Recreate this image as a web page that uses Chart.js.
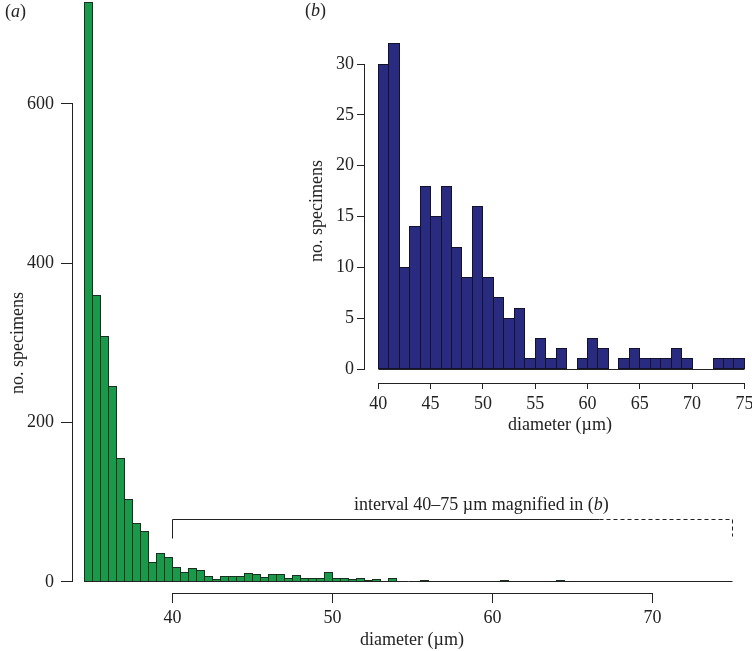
<!DOCTYPE html>
<html>
<head>
<meta charset="utf-8">
<title>Specimen diameters</title>
<script src="https://cdn.jsdelivr.net/npm/chart.js@4.4.1/dist/chart.umd.min.js"></script>
<style>
  html, body { margin: 0; background: #fff; }
  #wrap { position: relative; width: 752px; height: 651px; }
  #wrap canvas { position: absolute; top: 0; }
  #main { left: 0; }
  #inset { left: 290px; }
</style>
</head>
<body>
<div id="wrap">
  <canvas id="main" width="752" height="651"></canvas>
  <canvas id="inset" width="462" height="440"></canvas>
</div>
<script>
// (a) counts in 0.5 um bins, left edge of each bin
const mainBins = [34.5, 35, 35.5, 36, 36.5, 37, 37.5, 38, 38.5, 39, 39.5,
  40, 40.5, 41, 41.5, 42, 42.5, 43, 43.5, 44, 44.5,
  45, 45.5, 46, 46.5, 47, 47.5, 48, 48.5, 49, 49.5,
  50, 50.5, 51, 51.5, 52, 52.5, 53, 53.5, 54, 54.5,
  55, 55.5, 56, 56.5, 57, 57.5, 58, 58.5, 59, 59.5,
  60, 60.5, 61, 61.5, 62, 62.5, 63, 63.5, 64, 64.5,
  65, 65.5, 66, 66.5, 67, 67.5, 68, 68.5, 69, 69.5,
  70, 70.5, 71, 71.5, 72, 72.5, 73, 73.5, 74, 74.5];
const mainCounts = [727, 359, 308, 246, 155, 104, 73, 64, 25, 36, 31,
  18, 12, 17, 15, 7, 3, 7, 7, 7, 11,
  9, 6, 9, 9, 4, 8, 4, 5, 4, 12,
  4, 5, 3, 4, 2, 3, 1, 5, 0, 1,
  1, 2, 0, 1, 1, 1, 0, 0, 1, 0,
  1, 2, 1, 1, 0, 0, 0, 1, 2, 0,
  1, 0, 0, 1, 1, 0, 1, 1, 1, 0,
  0, 0, 0, 0, 1, 0, 0, 1, 1, 0];

// (b) counts in 1 um bins from 40 to 75
const insetBins = [40, 41, 42, 43, 44, 45, 46, 47, 48, 49, 50, 51, 52, 53, 54,
  55, 56, 57, 58, 59, 60, 61, 62, 63, 64, 65, 66, 67, 68, 69, 70, 71, 72, 73, 74];
const insetCounts = [30, 32, 10, 14, 18, 15, 18, 12, 9, 16, 9, 7, 5, 6, 1,
  3, 1, 2, 0, 1, 3, 2, 0, 1, 2, 1, 1, 1, 2, 1, 0, 0, 1, 1, 1];

const mainXTicks = [40, 50, 60, 70];
const mainYTicks = [0, 200, 400, 600];
const insetXTicks = [40, 45, 50, 55, 60, 65, 70, 75];
const insetYTicks = [0, 5, 10, 15, 20, 25, 30];

const serif = '"Liberation Serif", "Times New Roman", serif';
const ink = '#222';

// R-like axis: ticks drawn by Chart.js, axis line drawn only between first and last tick
function axis(o) {
  return {
    type: 'linear', min: o.min, max: o.max, offset: false,
    afterBuildTicks: s => { s.ticks = o.ticks.map(v => ({value: v})); },
    afterFit: s => {
      if (o.horizontal) s.height = o.size; else s.width = o.size;
      s.paddingTop = s.paddingBottom = s.paddingLeft = s.paddingRight = 0;
    },
    grid: {offset: false, drawOnChartArea: false, drawTicks: true, tickLength: o.tickLength, color: ink, lineWidth: 1},
    border: {display: false},
    ticks: {color: ink, padding: o.padding, font: {family: serif, size: 18}, maxRotation: 0, autoSkip: false}
  };
}

function setFont(ctx, italic) {
  ctx.font = (italic ? 'italic ' : '') + '18px ' + serif;
}

// draw text made of upright / italic pieces
function rich(ctx, parts, x, y, align) {
  const widths = parts.map(p => { setFont(ctx, p[1]); return ctx.measureText(p[0]).width; });
  const total = widths.reduce((a, b) => a + b, 0);
  let cx = align === 'center' ? x - total / 2 : x;
  ctx.textAlign = 'left';
  parts.forEach((p, i) => { setFont(ctx, p[1]); ctx.fillText(p[0], cx, y); cx += widths[i]; });
}

const al = p => Math.round(p - 0.5) + 0.5;

// axis lines, zero line and 1px outlines round each bar (like R's hist)
function frame(chart, xt, yt, binFrom, binTo, outline) {
  const {ctx, chartArea: a, scales: {x, y}} = chart;
  ctx.save();
  ctx.lineWidth = 1;
  ctx.strokeStyle = outline;
  chart.getDatasetMeta(0).data.forEach(bar => {
    const p = bar.getProps(['x', 'y', 'base', 'width'], true);
    if (p.base - p.y < 0.5) return;
    const l = al(p.x - p.width / 2), r = al(p.x + p.width / 2);
    const t = al(p.y), b = al(p.base);
    ctx.strokeRect(l, t, r - l, b - t);
  });
  ctx.strokeStyle = ink;
  ctx.beginPath();
  ctx.moveTo(a.left + 0.5, al(y.getPixelForValue(yt[0])) + 0.5);
  ctx.lineTo(a.left + 0.5, al(y.getPixelForValue(yt[yt.length - 1])) - 0.5);
  ctx.moveTo(al(x.getPixelForValue(xt[0])) - 0.5, a.bottom + 0.5);
  ctx.lineTo(al(x.getPixelForValue(xt[xt.length - 1])) + 0.5, a.bottom + 0.5);
  const z = al(y.getPixelForValue(0));
  ctx.moveTo(al(x.getPixelForValue(binFrom)), z);
  ctx.lineTo(al(x.getPixelForValue(binTo)), z);
  ctx.stroke();
  ctx.restore();
}

function titles(ctx, xTitle, yTitle, panel) {
  ctx.save();
  ctx.fillStyle = ink;
  ctx.textBaseline = 'middle';
  rich(ctx, [['diameter (µm)', false]], xTitle[0], xTitle[1], 'center');
  ctx.save();
  ctx.translate(yTitle[0], yTitle[1]);
  ctx.rotate(-Math.PI / 2);
  rich(ctx, [['no. specimens', false]], 0, 0, 'center');
  ctx.restore();
  ctx.textBaseline = 'alphabetic';
  rich(ctx, [['(', false], [panel[0], true], [')', false]], panel[1], panel[2], 'left');
  ctx.restore();
}

// bracket marking the interval shown in (b)
const bracket = {from: 40, split: 66.7, to: 75, level: 79, leftFoot: 55, rightFoot: 57.5, noteX: 59.3, noteY: 90.5};

new Chart(document.getElementById('main'), {
  type: 'bar',
  data: {
    datasets: [{
      data: mainBins.map((b, i) => ({x: b + 0.25, y: mainCounts[i]})),
      backgroundColor: '#1a994b',
      borderWidth: 0,
      inflateAmount: 0,
      barPercentage: 1,
      categoryPercentage: 1
    }]
  },
  options: {
    responsive: false,
    animation: false,
    devicePixelRatio: 1,
    layout: {padding: {top: 0, right: 11.5, bottom: 0, left: 0}},
    plugins: {legend: {display: false}, tooltip: {enabled: false}},
    scales: {
      x: axis({horizontal: true, min: 33.71875, max: 75.5, ticks: mainXTicks, size: 58, tickLength: 10, padding: 4}),
      y: axis({horizontal: false, min: -13.81, max: 730.54, ticks: mainYTicks, size: 72, tickLength: 11, padding: 7})
    }
  },
  plugins: [{
    id: 'mainDecor',
    afterDatasetsDraw(chart) {
      const {ctx, scales: {x, y}} = chart;
      frame(chart, mainXTicks, mainYTicks, mainBins[0], 75, '#18301f');
      const px = v => al(x.getPixelForValue(v));
      const py = v => al(y.getPixelForValue(v));
      ctx.save();
      ctx.strokeStyle = ink;
      ctx.lineWidth = 1;
      ctx.beginPath();
      ctx.moveTo(px(bracket.from), py(bracket.leftFoot));
      ctx.lineTo(px(bracket.from), py(bracket.level));
      ctx.lineTo(px(bracket.split), py(bracket.level));
      ctx.stroke();
      ctx.setLineDash([4, 3]);
      ctx.beginPath();
      ctx.moveTo(px(bracket.split), py(bracket.level));
      ctx.lineTo(px(bracket.to), py(bracket.level));
      ctx.lineTo(px(bracket.to), py(bracket.rightFoot));
      ctx.stroke();
      ctx.restore();
      ctx.save();
      ctx.fillStyle = ink;
      ctx.textBaseline = 'alphabetic';
      rich(ctx, [['interval 40–75 µm magnified in (', false], ['b', true], [')', false]],
        x.getPixelForValue(bracket.noteX), y.getPixelForValue(bracket.noteY), 'center');
      ctx.restore();
      titles(ctx, [412, 640], [18, 343], ['a', 5, 17]);
    }
  }]
});

new Chart(document.getElementById('inset'), {
  type: 'bar',
  data: {
    datasets: [{
      data: insetBins.map((b, i) => ({x: b + 0.5, y: insetCounts[i]})),
      backgroundColor: '#282b80',
      borderWidth: 0,
      inflateAmount: 0,
      barPercentage: 1,
      categoryPercentage: 1
    }]
  },
  options: {
    responsive: false,
    animation: false,
    devicePixelRatio: 1,
    layout: {padding: {top: 20, right: 2, bottom: 0, left: 0}},
    plugins: {legend: {display: false}, tooltip: {enabled: false}},
    scales: {
      x: axis({horizontal: true, min: 38.633, max: 75.535, ticks: insetXTicks, size: 57, tickLength: 6, padding: 4}),
      y: axis({horizontal: false, min: -1.377, max: 34.328, ticks: insetYTicks, size: 74, tickLength: 7, padding: 3})
    }
  },
  plugins: [{
    id: 'insetDecor',
    afterDatasetsDraw(chart) {
      frame(chart, insetXTicks, insetYTicks, insetBins[0], 75, '#12122a');
      titles(chart.ctx, [270, 425], [27, 211], ['b', 15, 16]);
    }
  }]
});
</script>
</body>
</html>
